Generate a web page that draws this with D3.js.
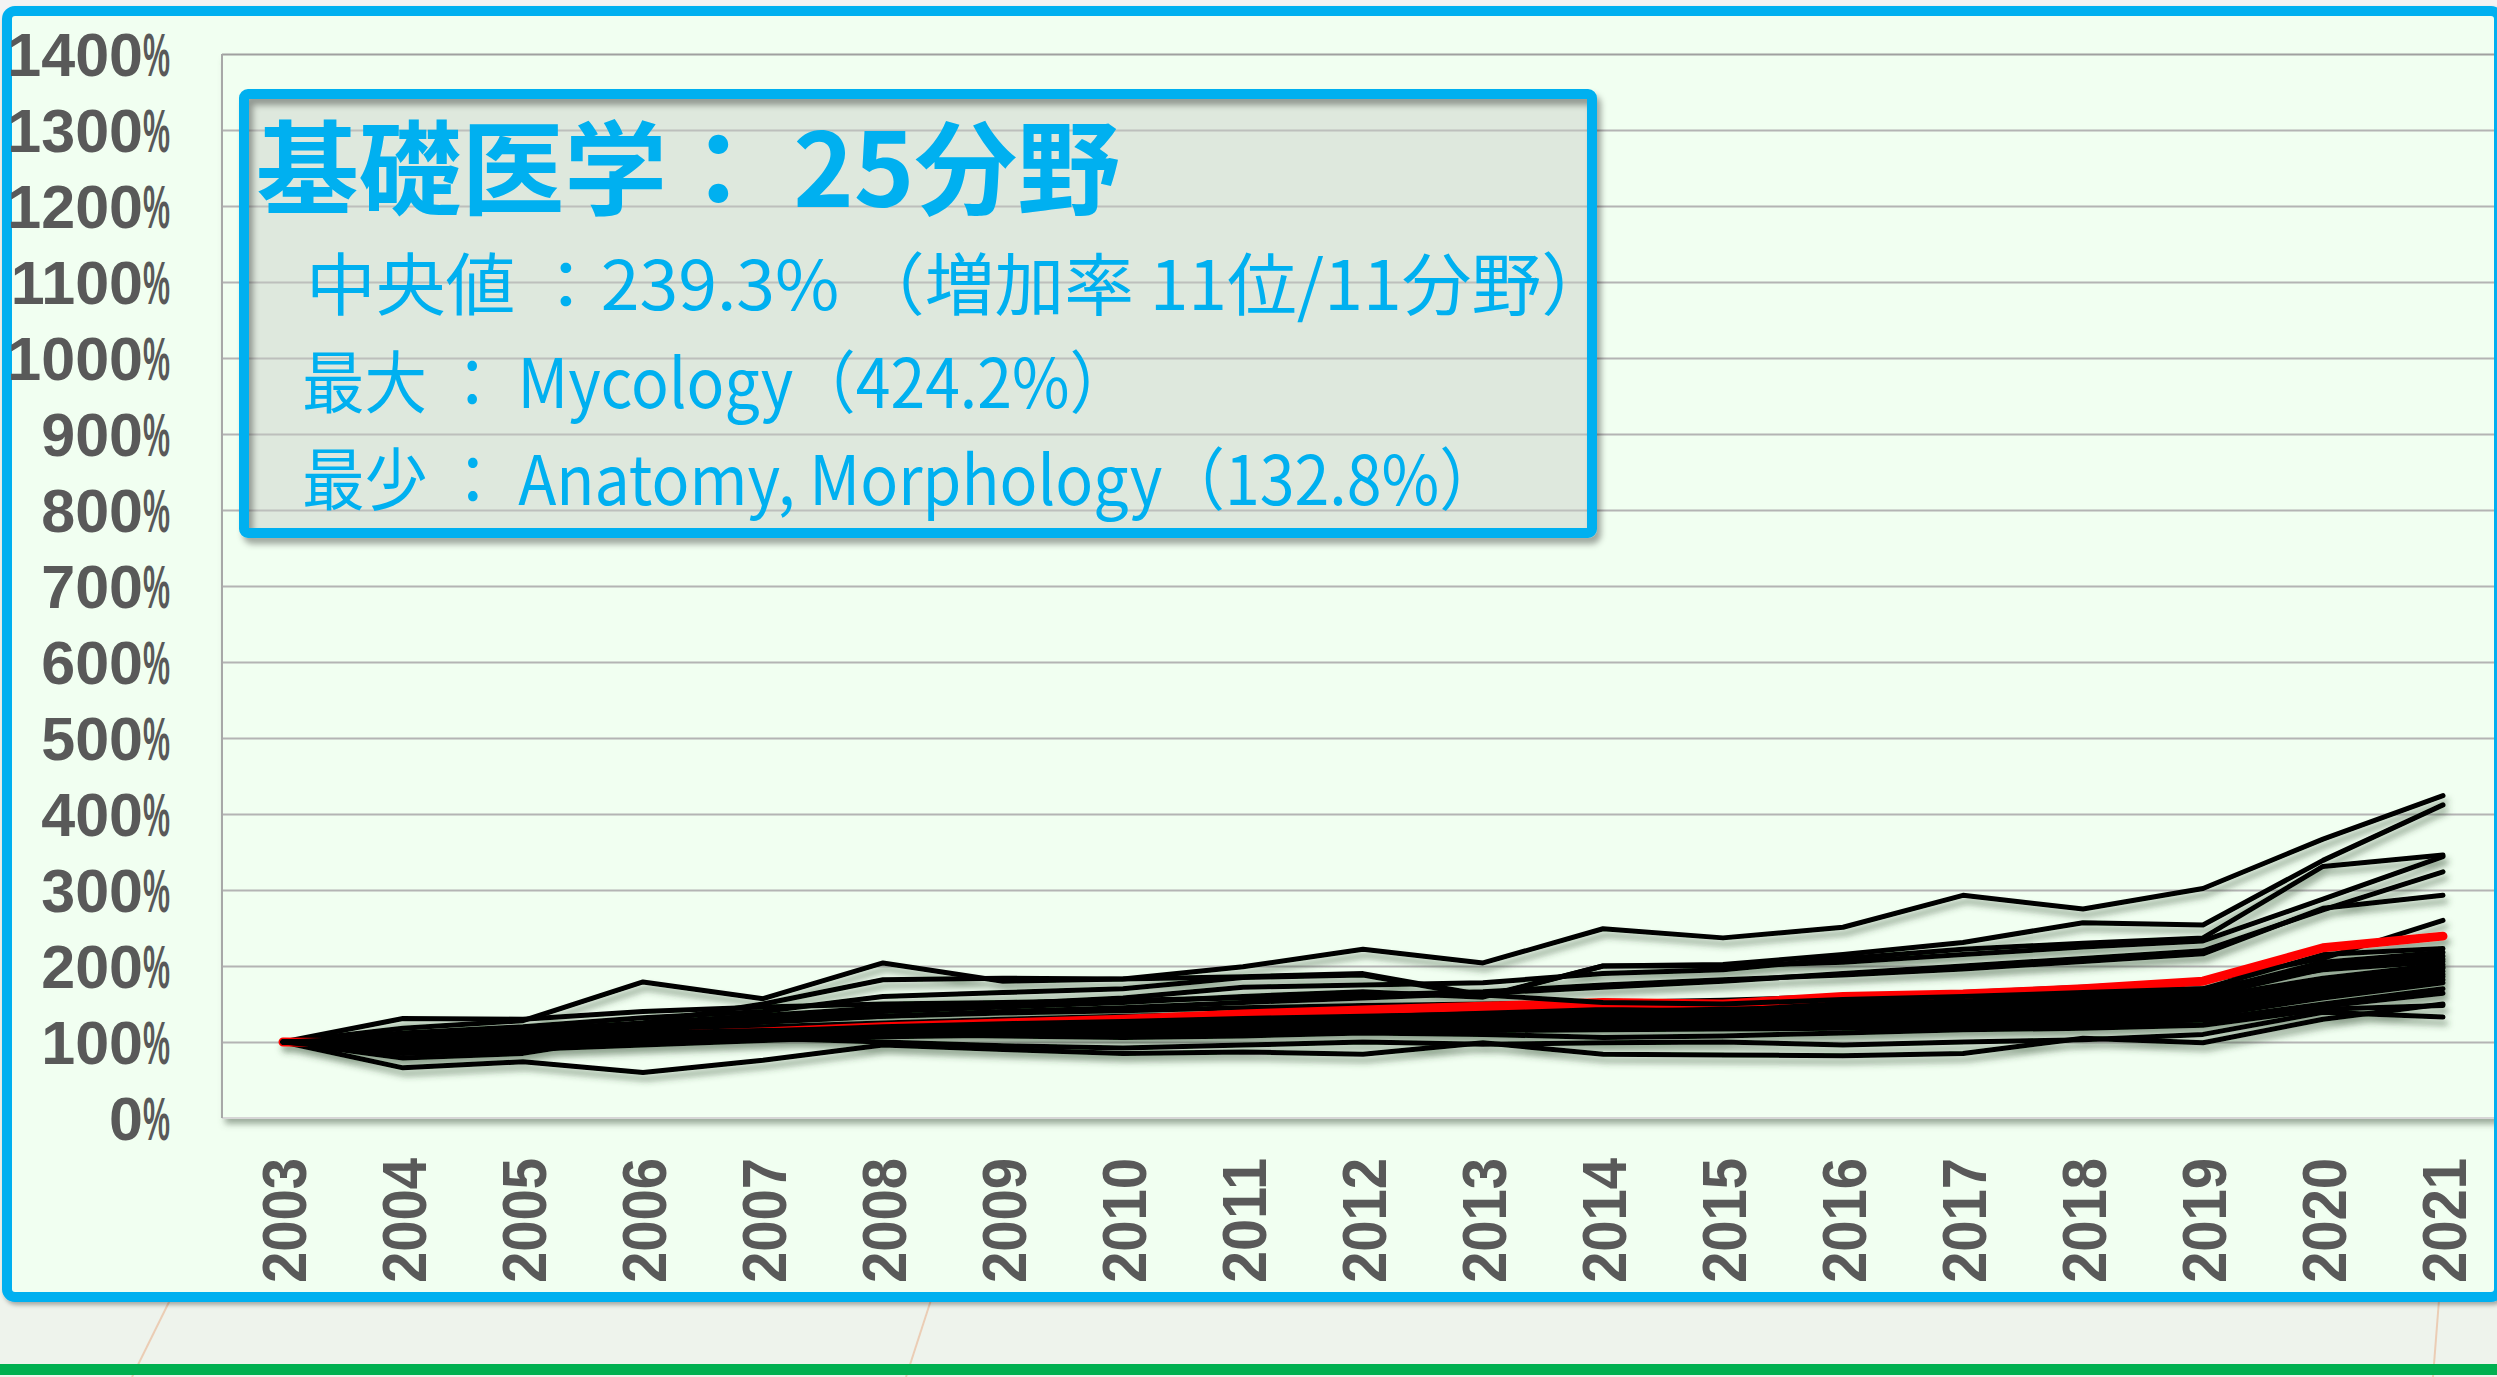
<!DOCTYPE html>
<html><head><meta charset="utf-8">
<script src="https://cdn.jsdelivr.net/npm/d3@7"></script>
<style>html,body{margin:0;padding:0;background:#f2f2f2;overflow:hidden}</style>
</head><body>
<svg id="chart" width="2497" height="1377"></svg>
<script>
// ---------- data ----------
const years = ["2003","2004","2005","2006","2007","2008","2009","2010","2011","2012","2013","2014","2015","2016","2017","2018","2019","2020","2021"];
const yTicks = [0,100,200,300,400,500,600,700,800,900,1000,1100,1200,1300,1400];
const yTickLabels = ["0%","100%","200%","300%","400%","500%","600%","700%","800%","900%","1000%","1100%","1200%","1300%","1400%"];

const s01 = [100,118,128,179,157,204,180,183,199,222,204,249,237,251,293,275,302,367,424.2]; // Mycology
const s02 = [100,112,120,132,140,160,165,170,185,188,160,200,202,215,231,257,254,339,412];
const s03 = [100,108,116,125,135,145,150,158,172,175,178,190,195,210,222,230,237,331,346];
const s04 = [100,106,114,122,130,140,146,152,160,166,159,200,200,205,215,225,233,288,344];
const s05 = [100,104,110,118,126,134,140,145,152,158,164,172,180,190,200,210,220,274,324];
const s06 = [100,131,130,140,146,150,152,155,158,162,166,175,182,188,196,206,216,276,293];
const s07 = [100,105,112,120,127,134,138,141,145,148,150,152,155,160,165,172,180,210,260];
const s08 = [100,103,109,114,120,125,130,134,137,141,144,148,151,156,160,165,170,215,223];
const s09 = [100,98,104,110,117,123,127,131,135,138,141,145,148,151,155,160,165,205,218];
const s10 = [100,101,106,112,118,122,125,128,132,136,139,142,145,149,153,157,163,200,213];
const s11 = [100,96,101,107,113,118,122,126,130,133,136,139,142,146,150,154,160,196,209];
const s12 = [100,104,110,125,150,182,184,183,186,190,162,152,150,156,160,165,170,195,206];
const s13 = [100,97,102,108,114,120,124,127,131,134,137,140,143,146,150,153,158,184,202];
const s14 = [100,100,104,108,112,116,119,122,126,129,132,135,138,141,145,148,153,180,199];
const s15 = [100,103,107,111,114,117,120,123,126,129,131,133,136,139,142,146,151,176,197];
const s16 = [100,95,99,103,108,113,116,119,122,125,128,131,134,137,140,143,148,172,193];
const s17 = [100,106,109,112,115,117,119,121,123,125,127,129,131,134,137,140,144,168,189];
const s18 = [100,92,96,100,104,109,112,115,118,121,124,126,129,132,135,138,142,165,186];
const s19 = [100,100,102,105,108,111,113,115,117,119,121,123,125,128,131,134,139,161,182];
const s20 = [100,90,95,99,103,107,109,111,113,115,117,119,121,123,126,129,134,158,178];
const s21 = [100,102,104,106,108,110,112,113,114,115,116,117,118,120,122,125,129,150,170];
const s22 = [100,85,90,96,102,108,110,111,113,114,115,116,117,118,119,120,123,147,164];
const s23 = [100,66,74,60,76,96,90,85,87,84,99,84,83,82,85,105,99,130,150];
const s24 = [100,79,85,110,105,100,95,92,96,100,97,99,100,96,100,103,110,139,132.8]; // Anatomy, Morphology
const s25 = [100,94,98,102,106,110,108,106,108,112,110,106,108,112,116,118,122,143,148];
const medianSeries = [100,98,103,108,113,120,125,130,137,142,147,152,150,160,163,170,180,224,239.3];

const blackSeriesA = [s01,s02,s03,s04,s05,s06,s07,s08,s09,s10,s23,s24,s25];
const blackSeriesB = [s11,s12,s13,s14,s15,s16,s17,s18,s19,s20,s21,s22];

const titleText = "基礎医学： 25分野";
const infoLines = ["中央値 ：239.3% （増加率 11位/11分野）","最大 ： Mycology（424.2%）","最少 ： Anatomy, Morphology（132.8%）"];

// ---------- drawing ----------
const W = 2497, H = 1377;
const svg = d3.select("#chart");
const defs = svg.append("defs");
function shadow(id, dx, dy, sd, color, op){
  const f = defs.append("filter").attr("id", id).attr("x","-5%").attr("y","-5%").attr("width","115%").attr("height","120%");
  f.append("feDropShadow").attr("dx",dx).attr("dy",dy).attr("stdDeviation",sd).attr("flood-color",color).attr("flood-opacity",op);
}
shadow("frameSh", 2, 3, 2, "#000", 0.3);
shadow("plotSh", 3, 6, 3, "#556655", 0.55);
shadow("lineSh", 3, 6, 3, "#2f4a2f", 0.5);
shadow("boxSh", 4, 6, 3, "#000", 0.35);

// page background
svg.append("rect").attr("width",W).attr("height",H).attr("fill","#EEF3EC");
svg.append("rect").attr("width",W).attr("height",20).attr("fill","#F3F3F3");
const deco = [[170,1300,132,1377],[931,1300,906,1377],[2439,1300,2433,1377]];
deco.forEach(d=>svg.append("line").attr("x1",d[0]).attr("y1",d[1]).attr("x2",d[2]).attr("y2",d[3]).attr("stroke","#EBCDB5").attr("stroke-width",2));
svg.append("rect").attr("x",0).attr("y",1364).attr("width",W).attr("height",11).attr("fill","#00B050");

// frame
svg.append("rect").attr("x",7).attr("y",11).attr("width",2492).attr("height",1286).attr("rx",8)
  .attr("fill","#F1FFF1").attr("stroke","#00B0F0").attr("stroke-width",10).attr("filter","url(#frameSh)");

defs.append("clipPath").attr("id","inner").append("rect").attr("x",12).attr("y",16).attr("width",2482).attr("height",1276);
const g = svg.append("g").attr("clip-path","url(#inner)");

const x = d3.scalePoint().domain(years).range([283, 2443]);
const y = d3.scaleLinear().domain([0,1400]).range([1118, 54]);
const plotL = 222, plotR = 2510;

g.append("rect").attr("x",plotL).attr("y",y(1400)).attr("width",plotR-plotL).attr("height",y(0)-y(1400))
  .attr("fill","#F1FFF1").attr("filter","url(#plotSh)");
g.append("line").attr("x1",plotL).attr("x2",plotR).attr("y1",y(0)).attr("y2",y(0)).attr("stroke","#D6D6D6").attr("stroke-width",2);

// gridlines via axis
const grid = g.append("g").attr("transform",`translate(${plotL},0)`)
  .call(d3.axisLeft(y).tickValues(yTicks.filter(t=>t>0)).tickSize(-(plotR-plotL)).tickFormat(""));
grid.select(".domain").remove();
grid.selectAll(".tick line").attr("stroke",(d)=> d===1400 ? "#A0A0A0" : "#B4B4B4").attr("stroke-width",2);
g.append("line").attr("x1",plotL).attr("x2",plotL).attr("y1",y(1400)).attr("y2",y(0)).attr("stroke","#A8A8A8").attr("stroke-width",2);

// lines
const line = d3.line().x((d,i)=>x(years[i])).y(d=>y(d));
const lg = g.append("g").attr("filter","url(#lineSh)").attr("fill","none").attr("stroke-linejoin","round").attr("stroke-linecap","round");
lg.selectAll("path.a").data(blackSeriesA).join("path").attr("class","a").attr("d",line).attr("stroke","#000").attr("stroke-width",5);
lg.append("path").datum(medianSeries).attr("d",line).attr("stroke","#FF0000").attr("stroke-width",9);
lg.selectAll("path.b").data(blackSeriesB).join("path").attr("class","b").attr("d",line).attr("stroke","#000").attr("stroke-width",5);

// y labels
const yl = svg.append("g").attr("font-family","'Liberation Sans', Arial, sans-serif").attr("font-weight","bold").attr("font-size",61).attr("fill","#595959");
yTicks.forEach((t,i)=>{
  const lab = yTickLabels[i];
  const num = lab.slice(0,-1);
  const tx = yl.append("text").attr("x",143).attr("y",y(t)+22).attr("text-anchor","end");
  tx.append("tspan").text(num);
  tx.append("tspan").attr("x",143).attr("text-anchor","start").attr("textLength",27).attr("lengthAdjust","spacingAndGlyphs").text("%");
});

// x labels
const xl = svg.append("g").attr("font-family","'Liberation Sans', Arial, sans-serif").attr("font-weight","bold").attr("font-size",63).attr("fill","#595959");
years.forEach(yr=>{
  xl.append("text").attr("transform",`translate(${x(yr)+23},1283) rotate(-90)`)
    .attr("textLength",125).attr("lengthAdjust","spacingAndGlyphs").text(yr);
});

// info box
const bx = svg.append("g");
bx.append("rect").attr("x",244).attr("y",94).attr("width",1348).attr("height",439).attr("rx",4)
  .attr("fill","rgba(200,205,198,0.45)");
bx.append("rect").attr("x",244).attr("y",94).attr("width",1348).attr("height",439).attr("rx",4)
  .attr("fill","none").attr("stroke","#00B0F0").attr("stroke-width",10).attr("filter","url(#boxSh)");
const tf = "'Noto Sans CJK JP', 'Noto Sans', sans-serif";
bx.append("text").attr("x",256).attr("y",207).attr("font-family",tf).attr("font-weight",700).attr("font-size",102)
  .attr("fill","#00B0F0").attr("textLength",864).attr("lengthAdjust","spacingAndGlyphs").text(titleText);
const lineY = [310, 408, 505], lineX = [306, 302, 302], lineLen = [1305, 830, 1200];
infoLines.forEach((t,i)=>{
  bx.append("text").attr("x",lineX[i]).attr("y",lineY[i]).attr("font-family",tf).attr("font-weight",400).attr("font-size",68)
    .attr("fill","#00B0F0").attr("textLength",lineLen[i]).attr("lengthAdjust","spacingAndGlyphs").text(t);
});
</script>
</body></html>
